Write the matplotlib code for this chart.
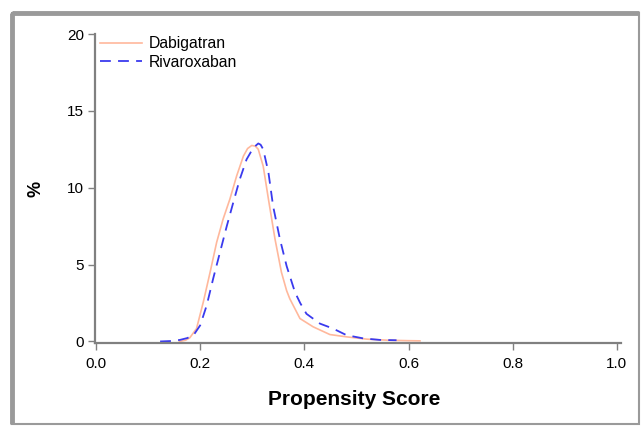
import matplotlib
matplotlib.use('Agg')
import matplotlib.pyplot as plt
from matplotlib.patches import Rectangle

plt.rcParams['font.family'] = ['Liberation Sans', 'DejaVu Sans']

# Propensity score densities (%)
dabi_x = [0.16, 0.172, 0.180, 0.193, 0.206, 0.219, 0.2316, 0.244, 0.257, 0.270,
          0.283, 0.291, 0.299, 0.306, 0.3115, 0.321, 0.331, 0.3436, 0.356,
          0.366, 0.372, 0.3916, 0.417, 0.449, 0.481, 0.52, 0.56, 0.60, 0.622]
dabi_y = [0.0, 0.08, 0.24, 0.84, 2.57, 4.5, 6.45, 7.96, 9.26, 10.77,
          12.06, 12.55, 12.75, 12.7, 12.5, 11.4, 9.26, 6.67, 4.5,
          3.3, 2.78, 1.49, 0.95, 0.45, 0.3, 0.15, 0.08, 0.05, 0.04]

riva_x = [0.123, 0.145, 0.161, 0.175, 0.187, 0.200, 0.2125, 0.225, 0.238, 0.251,
          0.2635, 0.276, 0.289, 0.302, 0.3115, 0.316, 0.321, 0.331, 0.340,
          0.353, 0.366, 0.382, 0.392, 0.404, 0.430, 0.455, 0.481, 0.513,
          0.545, 0.577]
riva_y = [0.0, 0.03, 0.1, 0.22, 0.4, 1.05, 2.35, 4.1, 5.8, 7.5,
          9.04, 10.55, 11.84, 12.6, 12.88, 12.8, 12.5, 11.0, 8.8,
          6.67, 4.9, 3.2, 2.5, 1.8, 1.16, 0.84, 0.41, 0.2,
          0.1, 0.08]

x_ticks = [0.0, 0.2, 0.4, 0.6, 0.8, 1.0]
x_labels = ['0.0', '0.2', '0.4', '0.6', '0.8', '1.0']
y_ticks = [0, 5, 10, 15, 20]

fig = plt.figure(figsize=(6.41, 4.26), dpi=100)

# grey frame around the graph (heavier on the left and top)
frame = '#9a9a9a'
fig.patches.append(Rectangle((12 / 641, 2 / 426), 627 / 641, 411 / 426,
                             transform=fig.transFigure, fill=False,
                             edgecolor=frame, linewidth=1.5))
fig.patches.append(Rectangle((12 / 641, 2 / 426), 0, 411 / 426,
                             transform=fig.transFigure, fill=False,
                             edgecolor=frame, linewidth=3.5))
fig.patches.append(Rectangle((12 / 641, 413 / 426), 627 / 641, 0,
                             transform=fig.transFigure, fill=False,
                             edgecolor=frame, linewidth=3.5))

ax = fig.add_axes([95 / 641, 83 / 426, 526 / 641, 309 / 426])
ax.plot(dabi_x, dabi_y, color='#ffb89c', linewidth=1.2, label='Dabigatran')
ax.plot(riva_x, riva_y, color='#3a3aee', linewidth=1.3, linestyle=(0, (6, 4)),
        label='Rivaroxaban')

ax.set_xlim(-0.002, 1.008)
ax.set_ylim(-0.1, 20)
ax.set_xticks(x_ticks)
ax.set_xticklabels(x_labels)
ax.set_yticks(y_ticks)
for side in ['top', 'right']:
    ax.spines[side].set_visible(False)
for side in ['left', 'bottom']:
    ax.spines[side].set_color('#808080')
    ax.spines[side].set_linewidth(1.6)
ax.tick_params(direction='out', length=5, width=1, color='#808080',
               labelsize=11, labelcolor='black', pad=3)
ax.tick_params(axis='x', pad=5)

ax.set_xlabel('Propensity Score', fontsize=15, fontweight='bold')
ax.xaxis.set_label_coords(0.492, -0.152)
ax.set_ylabel('%', fontsize=13, fontweight='bold', labelpad=16)

ax.legend(loc='upper left', bbox_to_anchor=(100 / 641, 1 - 36 / 426),
          bbox_transform=fig.transFigure, frameon=False, fontsize=11.3,
          handlelength=2.7, handletextpad=0.4, labelspacing=0.25,
          borderpad=0, borderaxespad=0)

fig.savefig('out.png', dpi=100)
